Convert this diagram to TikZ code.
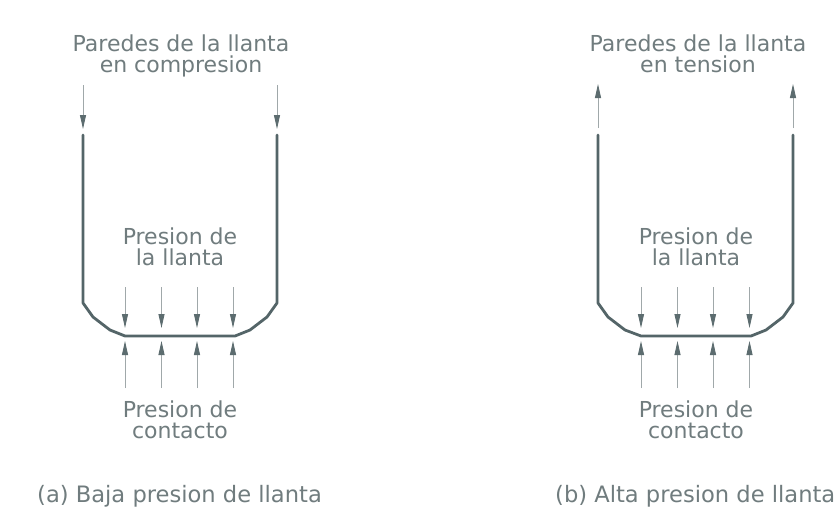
\documentclass[tikz,border=0pt]{standalone}
\usepackage{fontspec}
\setmainfont{DejaVu Sans}
\usetikzlibrary{arrows.meta}
\definecolor{txtc}{RGB}{112,124,126}
\definecolor{wallc}{RGB}{84,101,104}
\definecolor{thinc}{RGB}{160,168,170}
\definecolor{headc}{RGB}{92,108,111}
\newcommand\mylblfont{\fontsize{22}{21}\selectfont\lineskiplimit=-30pt\relax}
\tikzset{
  lbl/.style={text=txtc, font=\mylblfont, align=center, inner sep=0pt},
  captxt/.style={text=txtc, font=\fontsize{22.6}{21}\selectfont, inner sep=0pt},
  wall/.style={draw=wallc, line width=2.8pt, line join=round, line cap=round},
  farrow/.style={draw=thinc, line width=0.9pt, -{Triangle[length=14pt,width=6pt,color=headc]}}
}
\begin{document}
\begin{tikzpicture}[x=1pt,y=-1pt]
\useasboundingbox[fill=white] (0,0) rectangle (837,520);

% ---------- (a) ----------
\node[lbl, anchor=base] (ta) at (181,72) {Paredes de la llanta\\en compresion};
\node[lbl, anchor=base] (pa) at (180,265) {Presion de\\la llanta};
\node[lbl, anchor=base] (ca) at (180,438) {Presion de\\contacto};
\node[captxt, anchor=base west] (capa) at (37,502) {(a) Baja presion de llanta};

\draw[wall] (83,135) -- (83,303) -- (93,317) -- (110,330) -- (125,336)
  -- (235,336) -- (250,330) -- (267,317) -- (277,303) -- (277,135);

\coordinate (aL1) at (83,85);  \coordinate (aL2) at (83,129);
\coordinate (aR1) at (277,85); \coordinate (aR2) at (277,129);
\draw[farrow] (aL1) -- (aL2);
\draw[farrow] (aR1) -- (aR2);

\foreach \x [count=\i] in {125,161.5,197,233}{
  \coordinate (ad\i a) at (\x,287);
  \coordinate (ad\i b) at (\x,328);
  \coordinate (au\i a) at (\x,388);
  \coordinate (au\i b) at (\x,341);
  \draw[farrow] (ad\i a) -- (ad\i b);
  \draw[farrow] (au\i a) -- (au\i b);
}

% ---------- (b) ----------
\node[lbl, anchor=base] (tb) at (698,72) {Paredes de la llanta\\en tension};
\node[lbl, anchor=base] (pb) at (696,265) {Presion de\\la llanta};
\node[lbl, anchor=base] (cb) at (696,438) {Presion de\\contacto};
\node[captxt, anchor=base west] (capb) at (555,502) {(b) Alta presion de llanta};

\draw[wall] (598,135) -- (598,303) -- (608,317) -- (625,330) -- (641,336)
  -- (751,336) -- (766,330) -- (783,317) -- (793,303) -- (793,135);

\coordinate (bL1) at (598,128); \coordinate (bL2) at (598,84);
\coordinate (bR1) at (793,128); \coordinate (bR2) at (793,84);
\draw[farrow] (bL1) -- (bL2);
\draw[farrow] (bR1) -- (bR2);

\foreach \x [count=\i] in {641,677.5,713,749.5}{
  \coordinate (bd\i a) at (\x,287);
  \coordinate (bd\i b) at (\x,328);
  \coordinate (bu\i a) at (\x,388);
  \coordinate (bu\i b) at (\x,341);
  \draw[farrow] (bd\i a) -- (bd\i b);
  \draw[farrow] (bu\i a) -- (bu\i b);
}
\end{tikzpicture}
\end{document}
